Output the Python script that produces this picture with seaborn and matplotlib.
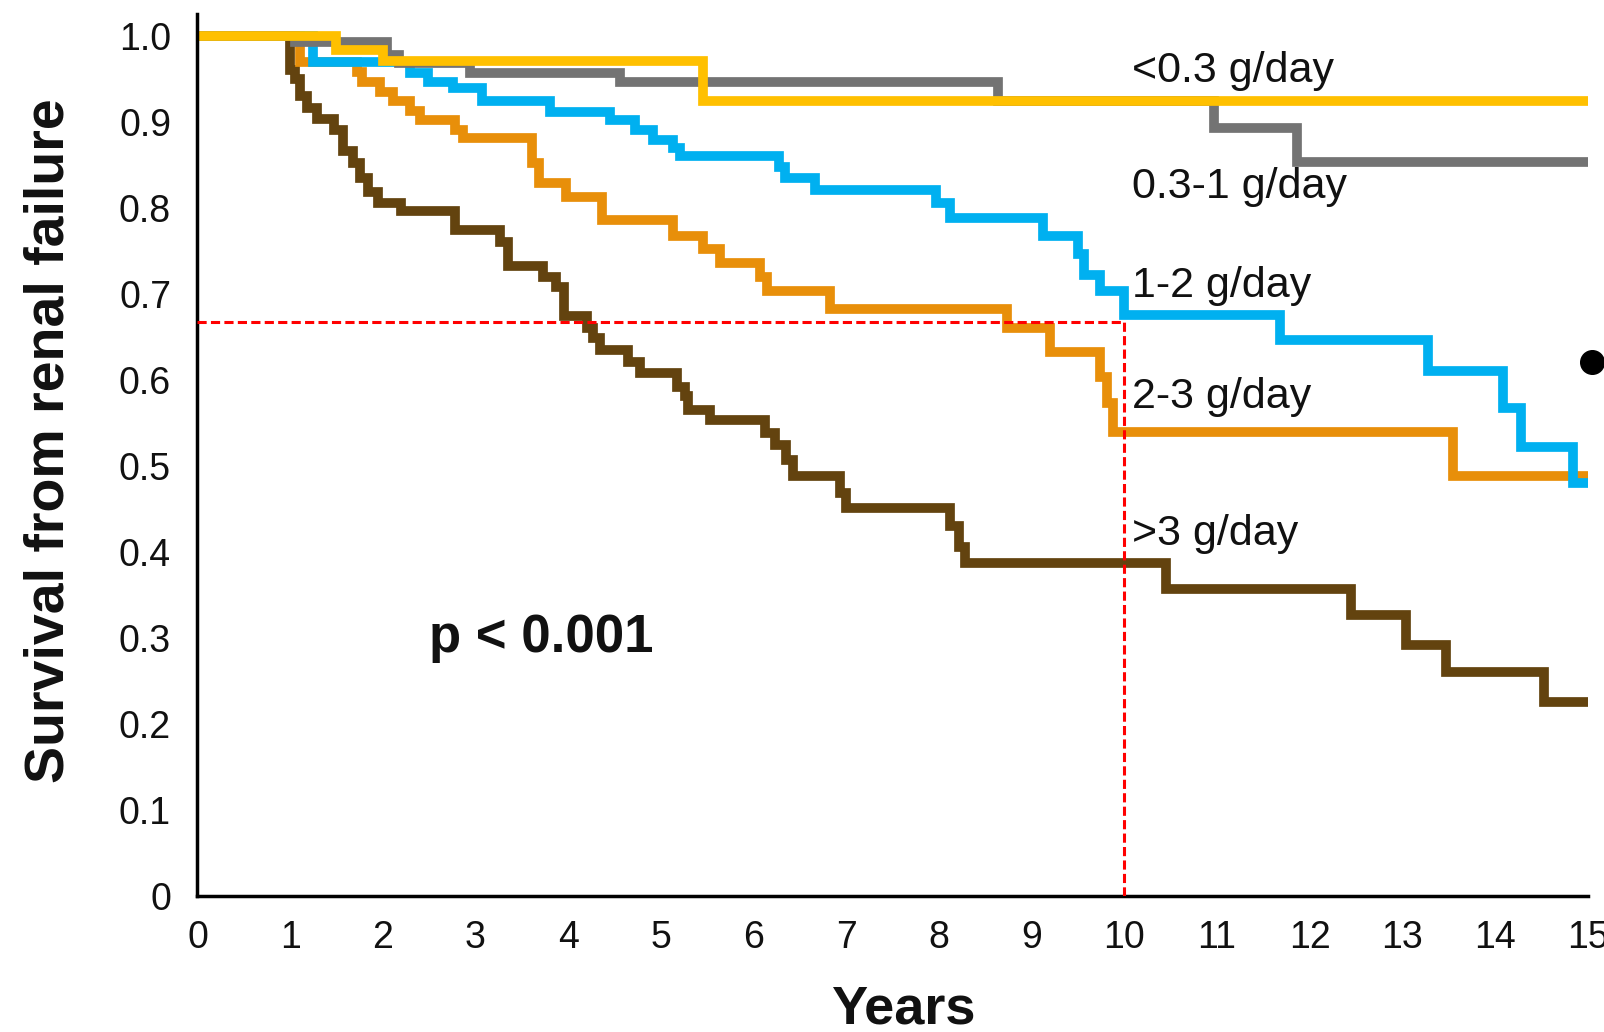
import numpy as np
import pandas as pd
import matplotlib
matplotlib.use("Agg")
import matplotlib.pyplot as plt
import seaborn as sns

# ---- data ----
groups = ["<0.3 g/day", "0.3-1 g/day", "1-2 g/day", "2-3 g/day", ">3 g/day"]

t_lt03 = [0, 1.50, 2.00, 5.46, 15.0]
s_lt03 = [1.0, 0.984, 0.971, 0.924, 0.924]

t_03_1 = [0, 1.05, 2.04, 2.17, 2.94, 4.56, 8.64, 10.97, 11.86, 15.0]
s_03_1 = [1.0, 0.993, 0.978, 0.968, 0.957, 0.946, 0.924, 0.893, 0.853, 0.853]

t_1_2 = [0, 1.25, 2.29, 2.49, 2.76, 3.07, 3.80, 4.45, 4.72, 4.92,
         5.13, 5.21, 6.28, 6.34, 6.66, 7.97, 8.12, 9.12, 9.50, 9.57,
         9.74, 10.00, 11.68, 13.28, 14.09, 14.28, 14.84, 15.0]
s_1_2 = [1.0, 0.970, 0.957, 0.947, 0.939, 0.924, 0.912, 0.902, 0.891, 0.879,
         0.870, 0.860, 0.848, 0.835, 0.821, 0.806, 0.788, 0.767, 0.747, 0.722,
         0.703, 0.676, 0.647, 0.610, 0.567, 0.522, 0.480, 0.480]

t_2_3 = [0, 1.11, 1.72, 1.78, 1.97, 2.11, 2.29, 2.40, 2.78, 2.87,
         3.61, 3.68, 3.98, 4.36, 5.13, 5.45, 5.64, 6.07, 6.14, 6.82,
         8.73, 9.20, 9.74, 9.81, 9.88, 13.55, 15.0]
s_2_3 = [1.0, 0.970, 0.958, 0.947, 0.935, 0.924, 0.913, 0.902, 0.891, 0.881,
         0.852, 0.829, 0.813, 0.786, 0.767, 0.752, 0.736, 0.720, 0.703, 0.683,
         0.660, 0.633, 0.604, 0.573, 0.540, 0.488, 0.488]

t_gt3 = [0, 1.00, 1.05, 1.11, 1.18, 1.29, 1.47, 1.57, 1.68, 1.75,
         1.84, 1.95, 2.20, 2.78, 3.26, 3.35, 3.73, 3.87, 3.95, 4.20,
         4.27, 4.34, 4.65, 4.77, 5.17, 5.26, 5.29, 5.53, 6.12, 6.23,
         6.35, 6.43, 6.93, 7.00, 8.12, 8.22, 8.28, 10.45, 12.45, 13.04,
         13.47, 14.53, 15.0]
s_gt3 = [1.0, 0.960, 0.950, 0.930, 0.916, 0.904, 0.891, 0.866, 0.852, 0.835,
         0.818, 0.806, 0.796, 0.774, 0.760, 0.733, 0.720, 0.708, 0.674, 0.660,
         0.649, 0.635, 0.621, 0.608, 0.592, 0.581, 0.565, 0.553, 0.538, 0.524,
         0.507, 0.488, 0.468, 0.451, 0.430, 0.406, 0.387, 0.357, 0.327, 0.292,
         0.260, 0.226, 0.226]

label_y = [0.947, 0.811, 0.697, 0.567, 0.408]   # baseline of the curve labels
label_x = 10.08

median_time = 10.0
median_surv = 0.667

x_ticks = list(range(0, 16))
y_ticks = [0, 0.1, 0.2, 0.3, 0.4, 0.5, 0.6, 0.7, 0.8, 0.9, 1.0]
y_ticklabels = ["0", "0.1", "0.2", "0.3", "0.4", "0.5", "0.6", "0.7", "0.8", "0.9", "1.0"]

p_text = "p < 0.001"

colors = {"<0.3 g/day": "#FFC000", "0.3-1 g/day": "#737373", "1-2 g/day": "#00B0F0",
          "2-3 g/day": "#E88F0A", ">3 g/day": "#63430F"}
widths = {"<0.3 g/day": 7.0, "0.3-1 g/day": 7.0, "1-2 g/day": 7.0,
          "2-3 g/day": 7.0, ">3 g/day": 7.0}

# ---- build long table ----
series = {"<0.3 g/day": (t_lt03, s_lt03), "0.3-1 g/day": (t_03_1, s_03_1),
          "1-2 g/day": (t_1_2, s_1_2), "2-3 g/day": (t_2_3, s_2_3),
          ">3 g/day": (t_gt3, s_gt3)}
frames = []
for g, (t, s) in series.items():
    frames.append(pd.DataFrame({"Years": t, "Survival": s, "group": g}))
df = pd.concat(frames, ignore_index=True)

sns.set_style("white")
plt.rcParams["font.family"] = ["Liberation Sans", "DejaVu Sans"]

fig = plt.figure(figsize=(16.04, 10.32), dpi=100)
ax = fig.add_axes([0.1231, 0.1318, 0.8667, 0.8542])

draw_order = [">3 g/day", "2-3 g/day", "1-2 g/day", "0.3-1 g/day", "<0.3 g/day"]
for g in draw_order:
    sub = df[df["group"] == g]
    n_before = len(ax.lines)
    sns.lineplot(data=sub, x="Years", y="Survival", color=colors[g],
                 estimator=None, sort=False, drawstyle="steps-post",
                 linewidth=widths[g], legend=False, ax=ax)
    for line in ax.lines[n_before:]:
        line.set_linewidth(widths[g])
        line.set_solid_joinstyle("miter")
        line.set_solid_capstyle("butt")

# median reference lines
ax.plot([0, median_time], [median_surv, median_surv], color="#FF0000",
        linewidth=2.2, dashes=(3.0, 1.4), zorder=5)
ax.plot([median_time, median_time], [0, median_surv], color="#FF0000",
        linewidth=2.2, dashes=(3.0, 1.4), zorder=5)

# curve labels
for g, yv in zip(groups, label_y):
    ax.text(label_x, yv, g, fontsize=31, ha="left", va="baseline", color="#111111")

ax.text(3.71, 0.284, p_text, fontsize=38, fontweight="bold", ha="center",
        va="baseline", color="#111111")

# stray dot at right edge
ax.plot([15.05], [0.621], "o", color="black", markersize=17, clip_on=False)

ax.set_xlim(0, 15)
ax.set_ylim(0, 1.025)
ax.set_xticks(x_ticks)
ax.set_xticklabels([str(v) for v in x_ticks])
ax.set_yticks(y_ticks)
ax.set_yticklabels(y_ticklabels)
ax.tick_params(axis="x", which="major", direction="out", length=12.5, width=2.0,
               labelsize=27, pad=5, colors="black", labelcolor="#111111")
ax.tick_params(axis="y", which="major", direction="out", length=14, width=2.0,
               labelsize=27, pad=5, colors="black", labelcolor="#111111")

for side in ["top", "right"]:
    ax.spines[side].set_visible(False)
for side in ["left", "bottom"]:
    ax.spines[side].set_linewidth(2.5)
    ax.spines[side].set_color("black")

ax.set_xlabel("Years", fontsize=39, fontweight="bold", color="#111111")
ax.set_ylabel("Survival from renal failure", fontsize=40, fontweight="bold", color="#111111")
ax.xaxis.set_label_coords(0.508, -0.100)
ax.yaxis.set_label_coords(-0.088, 0.517)

fig.savefig("out.png", dpi=100, facecolor="white")
